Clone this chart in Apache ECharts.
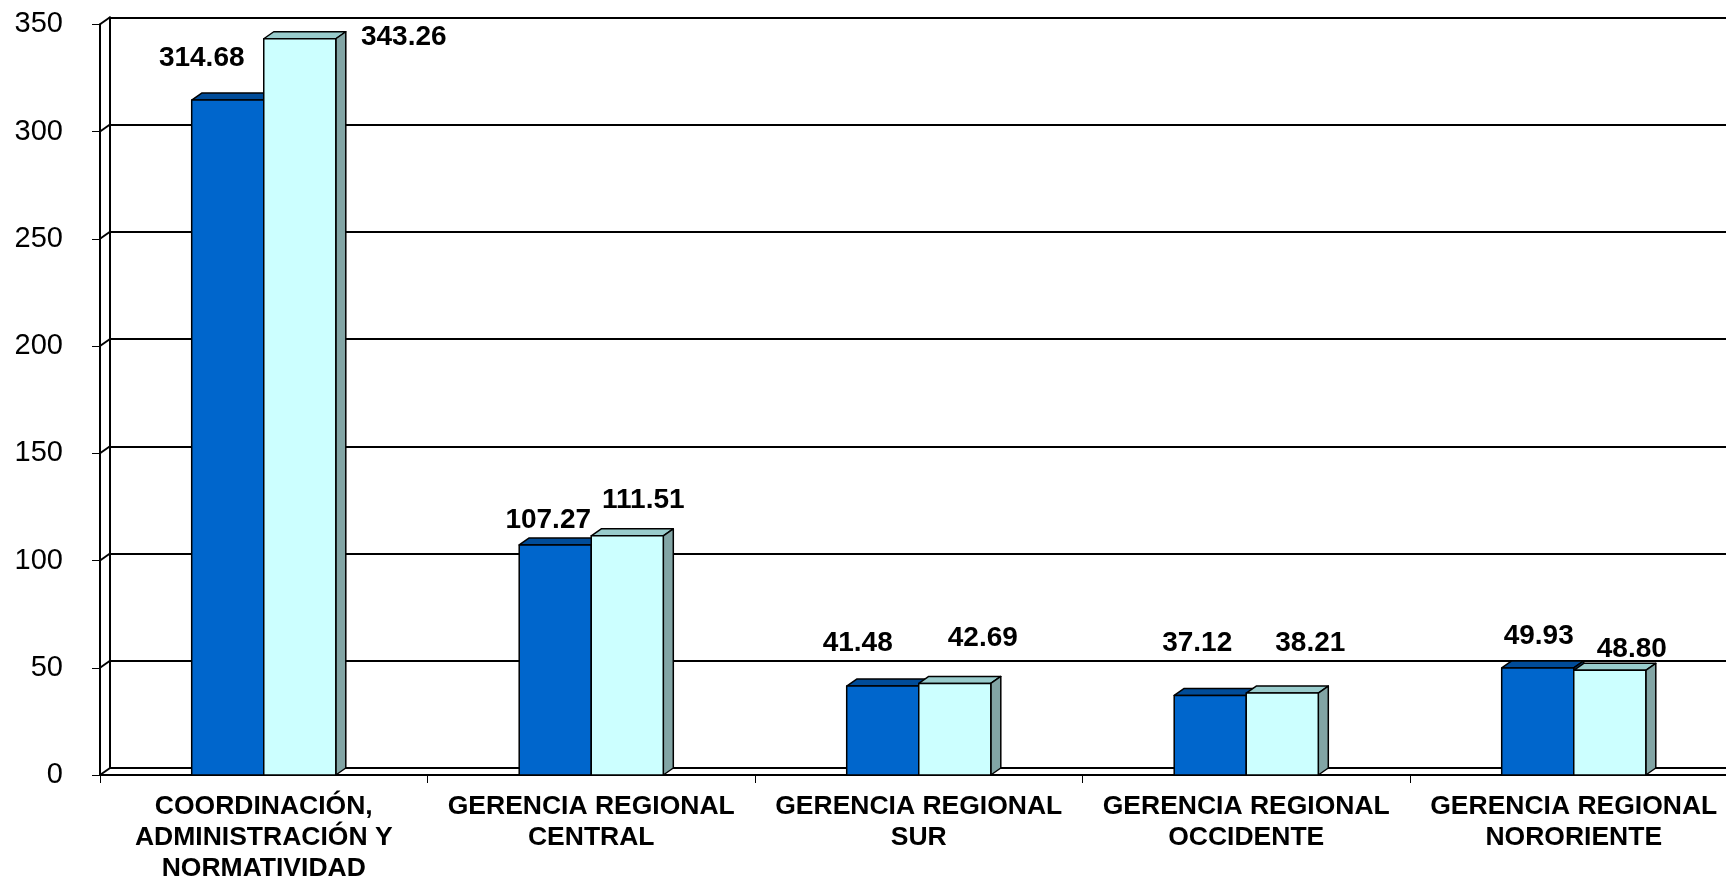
<!DOCTYPE html>
<html><head><meta charset="utf-8">
<script src="https://cdn.jsdelivr.net/npm/echarts@6/dist/echarts.min.js"></script>
<style>html,body{margin:0;padding:0;background:#fff}#c{width:1726px;height:879px}</style>
</head><body><div id="c"></div>
<script>
const categories = [
  'COORDINACIÓN,\nADMINISTRACIÓN Y\nNORMATIVIDAD',
  'GERENCIA REGIONAL\nCENTRAL',
  'GERENCIA REGIONAL\nSUR',
  'GERENCIA REGIONAL\nOCCIDENTE',
  'GERENCIA REGIONAL\nNORORIENTE'
];
const seriesA = [314.68, 107.27, 41.48, 37.12, 49.93];
const seriesB = [343.26, 111.51, 42.69, 38.21, 48.80];
const yTicks = [0, 50, 100, 150, 200, 250, 300, 350];

// label placement (pixel offsets from top-centre of each bar front face)
const labelOffsetsA = [[-26,-42],[-7,-25],[-25,-43],[-13,-52],[1,-32]];
const labelOffsetsB = [[104,-1],[16,-36],[28,-45],[28,-50],[22,-21]];

const FONT = '"Liberation Sans", Arial, sans-serif';
const DX = 10, DY = -7;
const GL = 100, GT = 24.3, GW = 1637.5, GH = 750.7;
const yMin = yTicks[0], yMax = yTicks[yTicks.length-1], yStep = yTicks[1]-yTicks[0];

function barRender(which, colors, offsets) {
  return function (params, api) {
    const i = api.value(0), v = api.value(1);
    const base = api.coord([i, 0]);
    const top = api.coord([i, v]);
    const catW = api.size([1, 0])[0];
    const w = catW * 0.22;
    const x0 = which === 0 ? base[0] - w : base[0];
    const ty = top[1], by = base[1];
    const st = {stroke: '#000', lineWidth: 1.5, lineJoin: 'round'};
    return {
      type: 'group',
      children: [
        {type: 'polygon', shape: {points: [[x0,ty],[x0+DX,ty+DY],[x0+w+DX,ty+DY],[x0+w,ty]]},
          style: Object.assign({fill: colors.top}, st)},
        {type: 'polygon', shape: {points: [[x0+w,ty],[x0+w+DX,ty+DY],[x0+w+DX,by+DY],[x0+w,by]]},
          style: Object.assign({fill: colors.side}, st)},
        {type: 'rect', shape: {x: x0, y: ty, width: w, height: by - ty},
          style: Object.assign({fill: colors.front}, st)},
        {type: 'text', x: x0 + w/2 + offsets[i][0], y: ty + offsets[i][1],
          style: {text: v.toFixed(2), fontSize: 28, fontWeight: 'bold', fontFamily: FONT,
                  fill: '#000', align: 'center', verticalAlign: 'middle'}}
      ]
    };
  };
}

const chart = echarts.init(document.getElementById('c'));
chart.setOption({
  animation: false,
  backgroundColor: '#fff',
  grid: [
    {left: GL, top: GT, width: GW, height: GH, containLabel: false, outerBoundsMode: 'none'},
    {left: GL + DX, top: GT + DY, width: GW, height: GH, containLabel: false, outerBoundsMode: 'none'}
  ],
  xAxis: [
    {type: 'category', gridIndex: 0, data: categories, boundaryGap: true,
      axisLine: {show: true, lineStyle: {color: '#000', width: 2}},
      axisTick: {show: true, length: 8, lineStyle: {color: '#000', width: 1}},
      axisLabel: {interval: 0, margin: 16, color: '#000', fontFamily: FONT, fontWeight: 'bold',
                  fontSize: 26.5, lineHeight: 31, align: 'center', hideOverlap: false},
      splitLine: {show: false}},
    {type: 'category', gridIndex: 1, data: categories, show: false}
  ],
  yAxis: [
    {type: 'value', gridIndex: 0, min: yMin, max: yMax, interval: yStep,
      axisLine: {show: true, lineStyle: {color: '#000', width: 2}},
      axisTick: {show: true, length: 8, lineStyle: {color: '#000', width: 1}},
      axisLabel: {margin: 37, color: '#000', fontFamily: FONT, fontSize: 29},
      splitLine: {show: false}},
    {type: 'value', gridIndex: 1, min: yMin, max: yMax, interval: yStep,
      axisLine: {show: true, lineStyle: {color: '#000', width: 2}},
      axisTick: {show: false}, axisLabel: {show: false},
      splitLine: {show: true, lineStyle: {color: '#000', width: 2}}}
  ],
  series: [
    {type: 'custom', xAxisIndex: 0, yAxisIndex: 0, z: 1,
      data: yTicks.map(v => [0, v]), encode: {x: 0, y: 1},
      renderItem: function (params, api) {
        const p = api.coord([0, api.value(1)]);
        const x = params.coordSys.x;
        return {type: 'line', shape: {x1: x, y1: p[1], x2: x + DX, y2: p[1] + DY},
                style: {stroke: '#000', lineWidth: 2}};
      }},
    {type: 'custom', name: 'Serie 1', xAxisIndex: 0, yAxisIndex: 0, z: 3,
      data: seriesA.map((v, i) => [i, v]), encode: {x: 0, y: 1},
      renderItem: barRender(0, {front: '#0066CC', top: '#004C99', side: '#00407F'}, labelOffsetsA)},
    {type: 'custom', name: 'Serie 2', xAxisIndex: 0, yAxisIndex: 0, z: 4,
      data: seriesB.map((v, i) => [i, v]), encode: {x: 0, y: 1},
      renderItem: barRender(1, {front: '#CCFFFF', top: '#99CCCC', side: '#82A5A5'}, labelOffsetsB)}
  ]
});
</script>
</body></html>
